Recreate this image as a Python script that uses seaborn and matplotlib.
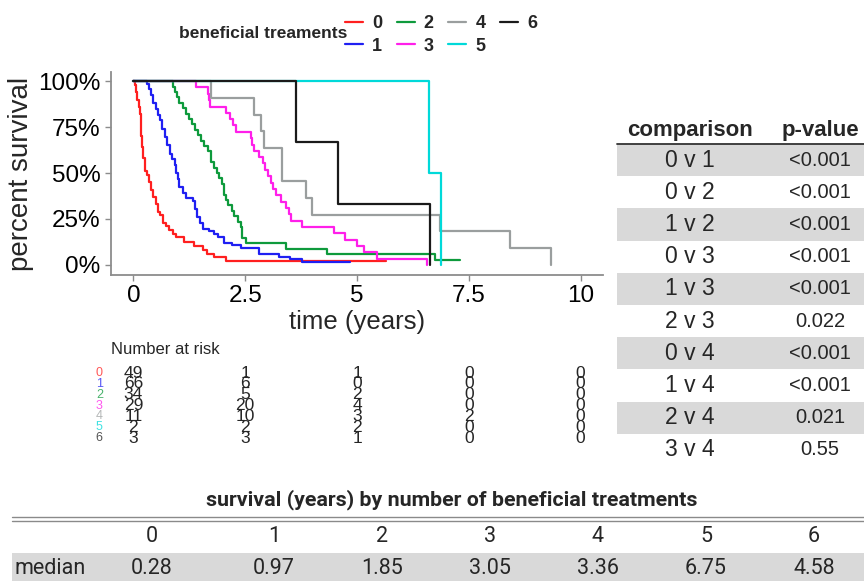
import pandas as pd
import seaborn as sns
import matplotlib.pyplot as plt
from matplotlib import font_manager as fm

# Kaplan-Meier step points: (time in years, percent surviving after the step)
grp0_t = [0, 0.03, 0.06, 0.09, 0.12, 0.14, 0.16, 0.18, 0.20, 0.22, 0.25, 0.30, 0.34, 0.40, 0.45,
          0.50, 0.55, 0.60, 0.66, 0.72, 0.80, 0.88, 0.95, 1.14, 1.36, 1.55, 1.65, 1.80, 2.07, 5.64]
grp0_s = [100, 98, 94, 90, 86, 82, 76, 70, 64, 58, 51, 49, 45, 41, 37,
          33, 29, 27, 23, 21, 19, 17, 15, 12.3, 10.2, 8.2, 6.1, 4.1, 2.0, 2.0]

grp1_t = [0, 0.30, 0.36, 0.40, 0.44, 0.50, 0.55, 0.59, 0.65, 0.70, 0.75, 0.81, 0.86, 0.92, 0.96,
          1.00, 1.03, 1.10, 1.18, 1.33, 1.38, 1.42, 1.48, 1.55, 1.70, 1.81, 1.90, 2.03, 2.20, 2.41,
          2.81, 3.26, 3.50, 3.78, 4.85]
grp1_s = [100, 98.5, 95.5, 92.4, 87.9, 84.8, 81.8, 78.8, 74.2, 69.7, 65.2, 60.6, 57.6, 54.5, 50.0,
          47.0, 42.4, 39.4, 36.4, 34.8, 30.3, 25.8, 22.7, 19.7, 18.2, 16.7, 15.2, 12.1, 10.6, 9.1,
          6.1, 4.5, 3.0, 1.5, 1.5]

grp2_t = [0, 0.88, 0.93, 0.98, 1.03, 1.10, 1.18, 1.25, 1.31, 1.37, 1.44, 1.51, 1.58, 1.66, 1.74,
          1.81, 1.86, 1.92, 1.98, 2.03, 2.08, 2.11, 2.20, 2.26, 2.35, 2.41, 2.44, 2.52, 3.41, 4.32,
          6.74, 7.31]
grp2_s = [100, 97.1, 94.1, 91.2, 88.2, 85.3, 82.4, 79.4, 76.5, 73.5, 70.6, 67.6, 64.7, 61.8, 55.9,
          52.9, 50.0, 47.1, 44.1, 38.2, 35.3, 32.4, 29.4, 26.5, 23.5, 20.6, 14.7, 11.8, 8.8, 5.9,
          2.9, 2.9]

grp3_t = [0, 1.41, 1.67, 1.70, 1.72, 2.07, 2.15, 2.22, 2.29, 2.63, 2.66, 2.70, 2.80, 2.89, 2.95,
          3.02, 3.07, 3.13, 3.18, 3.30, 3.41, 3.48, 3.52, 3.78, 4.48, 4.74, 5.00, 5.15, 5.45, 6.56]
grp3_s = [100, 96.6, 93.1, 89.7, 86.2, 82.8, 79.3, 75.9, 72.4, 69.0, 65.5, 62.1, 58.6, 55.2, 51.7,
          48.3, 44.8, 41.4, 37.9, 34.5, 31.0, 27.6, 24.1, 20.7, 17.2, 13.8, 10.3, 6.9, 3.4, 0]

grp4_t = [0, 1.74, 2.70, 2.85, 2.93, 3.33, 3.87, 4.00, 6.86, 8.42, 9.33]
grp4_s = [100, 90.9, 81.8, 72.7, 63.6, 45.5, 36.4, 27.3, 18.2, 9.1, 0]

grp5_t = [0, 6.60, 6.87]
grp5_s = [100, 50, 0]

grp6_t = [0, 3.64, 4.57, 6.64]
grp6_s = [100, 66.7, 33.3, 0]

groups = ['0', '1', '2', '3', '4', '5', '6']
risk_times = [0, 2.5, 5, 7.5, 10]
risk_counts = [[49, 1, 1, 0, 0],
               [66, 6, 0, 0, 0],
               [34, 5, 2, 0, 0],
               [29, 20, 4, 0, 0],
               [11, 10, 3, 2, 0],
               [2, 2, 2, 0, 0],
               [3, 3, 1, 0, 0]]

comparisons = ['0 v 1', '0 v 2', '1 v 2', '0 v 3', '1 v 3', '2 v 3', '0 v 4', '1 v 4', '2 v 4', '3 v 4']
pvalues = ['<0.001', '<0.001', '<0.001', '<0.001', '<0.001', '0.022', '<0.001', '<0.001', '0.021', '0.55']

median_labels = ['0', '1', '2', '3', '4', '5', '6']
median_years = ['0.28', '0.97', '1.85', '3.05', '3.36', '6.75', '4.58']

palette = {'0': '#FF1F1F', '1': '#1F1FF2', '2': '#0E9A3C', '3': '#FF1FEA',
           '4': '#9A9E9E', '5': '#00D9D9', '6': '#1A1A1A'}

sns.set_style('ticks')
plt.rcParams['font.family'] = ['Liberation Sans', 'DejaVu Sans']

names = {f.name for f in fm.fontManager.ttflist}
narrow = 'Liberation Sans Narrow' if 'Liberation Sans Narrow' in names else 'Roboto'

W, H = 864, 581
fig = plt.figure(figsize=(W / 100, H / 100), dpi=100)


def px_box(left, top, right, bottom):
    return [left / W, 1 - bottom / H, (right - left) / W, (bottom - top) / H]


# overlay in pixel units for the tables
ov = fig.add_axes([0, 0, 1, 1], zorder=0)
ov.set_xlim(0, W)
ov.set_ylim(H, 0)
ov.axis('off')

ax = fig.add_axes(px_box(111, 72, 603, 275), zorder=2)
ax.patch.set_alpha(0)

curves = [(grp0_t, grp0_s), (grp1_t, grp1_s), (grp2_t, grp2_s), (grp3_t, grp3_s),
          (grp4_t, grp4_s), (grp5_t, grp5_s), (grp6_t, grp6_s)]
rows = []
for g, (ts, ss) in zip(groups, curves):
    for t, s in zip(ts, ss):
        rows.append({'time': t, 'surv': s, 'group': g})
df = pd.DataFrame(rows)

sns.lineplot(data=df, x='time', y='surv', hue='group', hue_order=groups, palette=palette,
             drawstyle='steps-post', estimator=None, errorbar=None, sort=False,
             linewidth=1.6, ax=ax)

ax.set_xlim(-0.5, 10.5)
ax.set_ylim(-5.5, 105)
ax.set_xticks([0, 2.5, 5, 7.5, 10])
ax.set_xticklabels(['0', '2.5', '5', '7.5', '10'])
ax.set_yticks([0, 25, 50, 75, 100])
ax.set_yticklabels(['0%', '25%', '50%', '75%', '100%'])
ax.tick_params(labelsize=17.5, color='#8C8C8C', length=4, width=1, labelcolor='black')
sns.despine(ax=ax)
for sp in ['left', 'bottom']:
    ax.spines[sp].set_color('#8C8C8C')
    ax.spines[sp].set_linewidth(1.3)
ax.set_xlabel('time (years)', fontsize=18.5, labelpad=2)
ax.set_ylabel('percent survival', fontsize=20, labelpad=3)

# legend across the top
handles, labels = ax.get_legend_handles_labels()
ax.get_legend().remove()
fig.legend(handles, labels, ncol=4, loc='center', bbox_to_anchor=(441 / W, 1 - 35 / H),
           frameon=False, prop={'weight': 'bold', 'size': 13}, handlelength=1.0,
           handletextpad=0.5, columnspacing=0.8, labelspacing=0.3, borderaxespad=0)
fig.text(347 / W, 1 - 34 / H, 'beneficial treaments', ha='right', va='center',
         fontsize=12.5, fontweight='bold')

# number at risk
axr = fig.add_axes(px_box(111, 367.65, 603, 443.5), zorder=1)
axr.set_xlim(-0.5, 10.5)
axr.set_ylim(6.5, -0.5)
axr.axis('off')
axr.text(-0.49, -2.15, 'Number at risk', ha='left', va='center', fontsize=12)
for i, g in enumerate(groups):
    axr.text(-0.76, i, g, ha='center', va='center', fontsize=9, color=palette[g], alpha=0.75,
             clip_on=False)
    for t, n in zip(risk_times, risk_counts[i]):
        axr.text(t, i, str(n), ha='center', va='center', fontsize=12.5)

# pairwise comparison table
axp = fig.add_axes(px_box(617, 144, 864, 466), zorder=1)
axp.set_xlim(0, 1)
axp.set_ylim(len(comparisons), 0)
axp.axis('off')
for i, (c, p) in enumerate(zip(comparisons, pvalues)):
    if i % 2 == 0:
        axp.axhspan(i, i + 1, color='#D9D9D9', lw=0)
    axp.text(0.296, i + 0.5, c, ha='center', va='center', fontsize=16.5)
    axp.text(0.822, i + 0.5, p, ha='center', va='center', fontsize=14.5)
axp.axhline(0, color='#333333', lw=1.3, clip_on=False)
axp.text(0.296, -0.42, 'comparison', ha='center', va='center', fontsize=16, fontweight='bold')
axp.text(0.822, -0.42, 'p-value', ha='center', va='center', fontsize=16, fontweight='bold')

# median survival table
col_x = [152, 274, 382, 490, 598, 706, 814]
ov.text(452, 500, 'survival (years) by number of beneficial treatments', ha='center', va='center',
        fontsize=15.4, fontweight='bold', family=narrow)
ov.plot([12, W], [517, 517], color='#8A8A8A', lw=1)
ov.plot([12, W], [520.5, 520.5], color='#8A8A8A', lw=1)
ov.fill_between([12, W], 553, 581, color='#D9D9D9', lw=0)
for x, lab, val in zip(col_x, median_labels, median_years):
    ov.text(x, 537, lab, ha='center', va='center', fontsize=15.5, family=narrow)
    ov.text(x, 568, val, ha='center', va='center', fontsize=15.5, family=narrow)
ov.text(15, 568, 'median', ha='left', va='center', fontsize=15.5, family=narrow)

fig.savefig('out.png', dpi=100)
